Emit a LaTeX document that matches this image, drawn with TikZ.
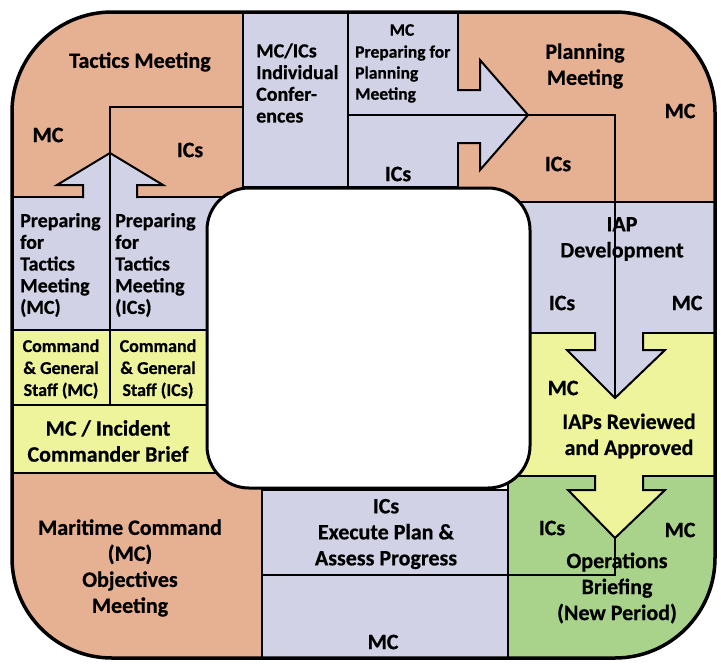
\documentclass[tikz,border=0pt]{standalone}
\usepackage{fontspec}
\setmainfont{Carlito}[BoldFeatures={FakeBold=0.6}]
\usetikzlibrary{positioning}
\definecolor{msalmon}{HTML}{E6B092}
\definecolor{mlav}{HTML}{D1D2E6}
\definecolor{myellow}{HTML}{EEF49C}
\definecolor{mgreen}{HTML}{A9D38B}

\begin{document}
\begin{tikzpicture}[x=1pt, y=-1pt,
    region/.style={draw=black, line width=2pt},
    divider/.style={draw=black, line width=2pt, line join=miter},
    lbl/.style={font=\fontsize{22}{26}\selectfont\bfseries, align=center, inner sep=0pt},
    leftlbl/.style={font=\fontsize{20}{21.7}\selectfont\bfseries, align=left, inner sep=0pt},
    midlbl/.style={font=\fontsize{17.5}{21}\selectfont\bfseries, align=left, inner sep=0pt},
    cgslbl/.style={font=\fontsize{18}{22}\selectfont\bfseries, align=center, inner sep=0pt}
]
\useasboundingbox (0,0) rectangle (721,665);

% coloured areas, cut to the frame
\begin{scope}
  \clip[rounded corners=100pt] (12,12) rectangle (715,658);
  \filldraw[region, fill=msalmon] (12,12) rectangle (243,197);
  \filldraw[region, fill=mlav] (243,12) rectangle (348,187);
  \filldraw[region, fill=mlav] (348,12) rectangle (458,115);
  \filldraw[region, fill=mlav] (348,115) rectangle (458,187);
  \filldraw[region, fill=msalmon] (458,12) rectangle (715,202);
  \filldraw[region, fill=mlav] (500,202) rectangle (715,333);
  \filldraw[region, fill=myellow] (500,333) rectangle (715,476);
  \filldraw[region, fill=mgreen] (508,476) rectangle (715,658);
  \filldraw[region, fill=mlav] (262,490) rectangle (508,658);
  \filldraw[region, fill=msalmon] (12,473) rectangle (262,658);
  \filldraw[region, fill=mlav] (12,197) rectangle (110,330);
  \filldraw[region, fill=mlav] (110,197) rectangle (230,330);
  \filldraw[region, fill=myellow] (12,330) rectangle (110,405);
  \filldraw[region, fill=myellow] (110,330) rectangle (230,405);
  \filldraw[region, fill=myellow] (12,405) rectangle (230,473);

  % block arrows
  \fill[mlav] (83,199) -- (83,185) -- (57,185) -- (110,153) -- (163,185) -- (137,185) -- (137,199) -- cycle;
  \draw[divider] (83,198) -- (83,185) -- (57,185) -- (110,153) -- (163,185) -- (137,185) -- (137,198);
  \fill[mlav] (456,90) -- (480,90) -- (480,60) -- (528,115) -- (480,170) -- (480,143) -- (456,143) -- cycle;
  \draw[divider] (457,90) -- (480,90) -- (480,60) -- (528,115) -- (480,170) -- (480,143) -- (457,143);
  \fill[mlav] (595,331) -- (595,350) -- (567,350) -- (615,398) -- (665,350) -- (643,350) -- (643,331) -- cycle;
  \draw[divider] (595,332) -- (595,350) -- (567,350) -- (615,398) -- (665,350) -- (643,350) -- (643,332);
  \fill[myellow] (595,474) -- (595,490) -- (568,490) -- (615,538) -- (665,490) -- (643,490) -- (643,474) -- cycle;
  \draw[divider] (595,475) -- (595,490) -- (568,490) -- (615,538) -- (665,490) -- (643,490) -- (643,475);

  % MC / ICs split lines
  \draw[divider] (110,153) -- (110,405);
  \draw[divider] (110,153) -- (110,107) -- (243,107);
  \draw[divider] (348,115) -- (615,115) -- (615,398);
  \draw[divider] (262,575) -- (615,575) -- (615,538);
\end{scope}

% centre hole and frame
\filldraw[fill=white, draw=black, line width=3pt, rounded corners=42pt] (207,188) rectangle (530,488);
\draw[line width=3.5pt, rounded corners=100pt] (12,12) rectangle (715,658);

% labels
\node[lbl] (tactics) at (140,62) {Tactics Meeting};
\node[lbl] (tacmc) at (48,135) {MC};
\node[lbl] (tacics) at (190,150) {ICs};
\node[leftlbl, anchor=west] (conf) at (256,83) {MC/ICs\\Individual\\Confer-\\ences};
\node[midlbl] (prepplanmc) at (402,30) {MC};
\node[midlbl, anchor=west] (prepplan) at (355,74) {Preparing for\\Planning\\Meeting};
\node[lbl] (midics) at (398,174) {ICs};
\node[lbl] (planning) at (585,66) {Planning\\Meeting};
\node[lbl] (planmc) at (680,111) {MC};
\node[lbl] (planics) at (558,164) {ICs};
\node[lbl] (iap) at (622,239) {IAP\\Development};
\node[lbl] (iapics) at (562,303) {ICs};
\node[lbl] (iapmc) at (687,303) {MC};
\node[lbl] (revmc) at (563,388) {MC};
\node[lbl] (reviewed) at (629,436) {IAPs Reviewed\\and Approved};
\node[lbl] (opsics) at (552,528) {ICs};
\node[lbl] (opsmc) at (680,530) {MC};
\node[lbl] (ops) at (617,588) {Operations\\Briefing\\(New Period)};
\node[lbl] (execute) at (386,534) {ICs\\Execute Plan \&\\Assess Progress};
\node[lbl] (execmc) at (383,642) {MC};
\node[lbl] (objectives) at (130,568) {Maritime Command\\(MC)\\Objectives\\Meeting};
\node[lbl] (brief) at (108,441) {MC / Incident\\Commander Brief};
\node[cgslbl] (cgsmc) at (61,369) {Command\\\& General\\Staff (MC)};
\node[cgslbl] (cgsics) at (158,369) {Command\\\& General\\Staff (ICs)};
\node[leftlbl, anchor=west] (preptacmc) at (20,265) {Preparing\\for\\Tactics\\Meeting\\(MC)};
\node[leftlbl, anchor=west] (preptacics) at (115,265) {Preparing\\for\\Tactics\\Meeting\\(ICs)};
\end{tikzpicture}
\end{document}
